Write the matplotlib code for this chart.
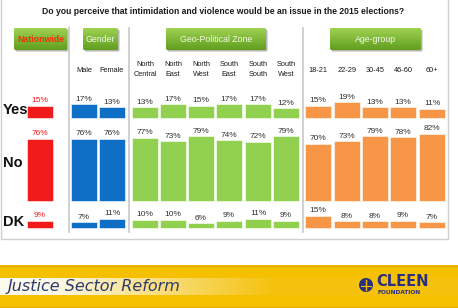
import matplotlib.pyplot as plt
import numpy as np
from matplotlib.patches import Rectangle, Circle, FancyBboxPatch

# data
groups = ["Nationwide", "Gender", "Geo-Political Zone", "Age-group"]
columns = ["", "Male", "Female", "North\nCentral", "North\nEast", "North\nWest",
           "South\nEast", "South\nSouth", "South\nWest",
           "18-21", "22-29", "30-45", "46-60", "60+"]
col_group = [0, 1, 1, 2, 2, 2, 2, 2, 2, 3, 3, 3, 3, 3]
rows = ["Yes", "No", "DK"]
yes = [15, 17, 13, 13, 17, 15, 17, 17, 12, 15, 19, 13, 13, 11]
no = [76, 76, 76, 77, 73, 79, 74, 72, 79, 70, 73, 79, 78, 82]
dk = [9, 7, 11, 10, 10, 6, 9, 11, 9, 15, 8, 8, 9, 7]

title = "Do you perceive that intimidation and violence would be an issue in the 2015 elections?"
group_colors = ["#F21B1B", "#0F6FC6", "#92D050", "#F79646"]

plt.rcParams["font.family"] = ["Liberation Sans", "DejaVu Sans"]

fig = plt.figure(figsize=(4.58, 3.08), dpi=100)
ax = fig.add_axes([0, 0, 1, 1])
ax.set_xlim(0, 458)
ax.set_ylim(308, 0)
ax.axis("off")

# column layout (pixels)
col_x = [40, 84, 112, 145, 173, 201, 229, 258, 286, 318, 347, 375, 403, 432]
bar_w = 26
baselines = [118, 201, 228]
px_per_pct = 0.82

# frame and separators
ax.plot([1, 1, 448, 448], [0, 239, 239, 0], color="#d0d0d0", lw=1)
for sx in [68.5, 128.5, 302.5]:
    ax.plot([sx, sx], [28, 232], color="#c8c8c8", lw=1.2)

ax.text(223, 12, title, ha="center", va="center", fontsize=6.2,
        fontweight="bold", color="#1a1a1a")

# group header buttons
buttons = [(14, 67), (83, 118), (166, 266), (330, 421)]


def grad_box(x0, x1, y0, y1, c_top, c_bot, radius=1.5):
    shadow = FancyBboxPatch((x0 + 1.5, y0 + 1.5), x1 - x0, y1 - y0,
                            boxstyle="round,pad=0,rounding_size=%g" % radius,
                            fc="#b5b5b5", ec="none", zorder=1)
    ax.add_patch(shadow)
    box = FancyBboxPatch((x0, y0), x1 - x0, y1 - y0,
                         boxstyle="round,pad=0,rounding_size=%g" % radius,
                         fc="none", ec="none", zorder=2)
    ax.add_patch(box)
    g = np.linspace(0, 1, 50)[:, None, None]
    img = np.array(c_top)[None, None, :] * (1 - g) + np.array(c_bot)[None, None, :] * g
    im = ax.imshow(img, extent=(x0, x1, y1, y0), aspect="auto", zorder=2,
                   interpolation="bilinear")
    im.set_clip_path(box)


for i, (bx0, bx1) in enumerate(buttons):
    grad_box(bx0, bx1, 28, 50, (0.62, 0.82, 0.32), (0.38, 0.62, 0.12))
    tcol = "#F0300A" if i == 0 else "#F4F8E8"
    ax.text((bx0 + bx1) / 2, 39, groups[i], ha="center", va="center",
            fontsize=6.3, fontweight="bold" if i == 0 else "normal",
            color=tcol, zorder=3)

# column headers
for x, lab in zip(col_x, columns):
    ax.text(x, 70, lab, ha="center", va="center", fontsize=5.3,
            color="#1a1a1a", linespacing=1.6)

# row labels
for lab, base, ysh in zip(rows, baselines, [-8, -38, -6]):
    ax.text(3, base + ysh, lab, ha="left", va="center", fontsize=10.5,
            fontweight="bold", color="#111111")

# bars
for vals, base in zip([yes, no, dk], baselines):
    heights = [v * px_per_pct for v in vals]
    colors = [group_colors[g] for g in col_group]
    ax.bar(col_x, [-h for h in heights], bottom=base, width=bar_w,
           color=colors, edgecolor="white", linewidth=0.4, zorder=2)
    for x, v, h, g in zip(col_x, vals, heights, col_group):
        ax.text(x, base - h - 1.5, f"{v}%", ha="center", va="bottom",
                fontsize=6, color="#F21B1B" if g == 0 else "#333333")

# bottom banner
ax.add_patch(Rectangle((0, 265), 458, 43, fc="#F5C000", ec="none"))
ax.plot([0, 458], [265.5, 265.5], color="#E0A800", lw=1)
ax.plot([0, 458], [306.5, 306.5], color="#E6B000", lw=1)
g = np.linspace(0, 1, 200)
c0 = np.array([0.99, 0.98, 0.93])
c1 = np.array([0.96, 0.76, 0.05])
t = np.clip((g - 0.1) / 0.5, 0, 1)[None, :, None]
band = c0[None, None, :] * (1 - t) + c1[None, None, :] * t
ax.imshow(band, extent=(0, 458, 295, 278), aspect="auto", zorder=1,
          interpolation="bilinear")
ax.text(8, 286.5, "Justice Sector Reform", ha="left", va="center",
        fontsize=11.5, style="italic", color="#2E3A6E", zorder=3,
        family=["DejaVu Sans"])

# logo
ax.add_patch(Circle((366, 285), 7, fc="#2B2F7E", ec="none", zorder=3))
ax.plot([366, 366], [280, 290], color="#F5C000", lw=1, zorder=4)
ax.plot([361, 371], [286, 286], color="#F5C000", lw=0.8, zorder=4)
ax.text(376, 282, "CLEEN", ha="left", va="center", fontsize=10.5,
        fontweight="bold", color="#2B2F7E", zorder=3, family=["DejaVu Sans"])
ax.text(377, 292.5, "FOUNDATION", ha="left", va="center", fontsize=4.2,
        fontweight="bold", color="#2B2F7E", zorder=3, family=["DejaVu Sans"])

plt.savefig("out.png", dpi=100)
